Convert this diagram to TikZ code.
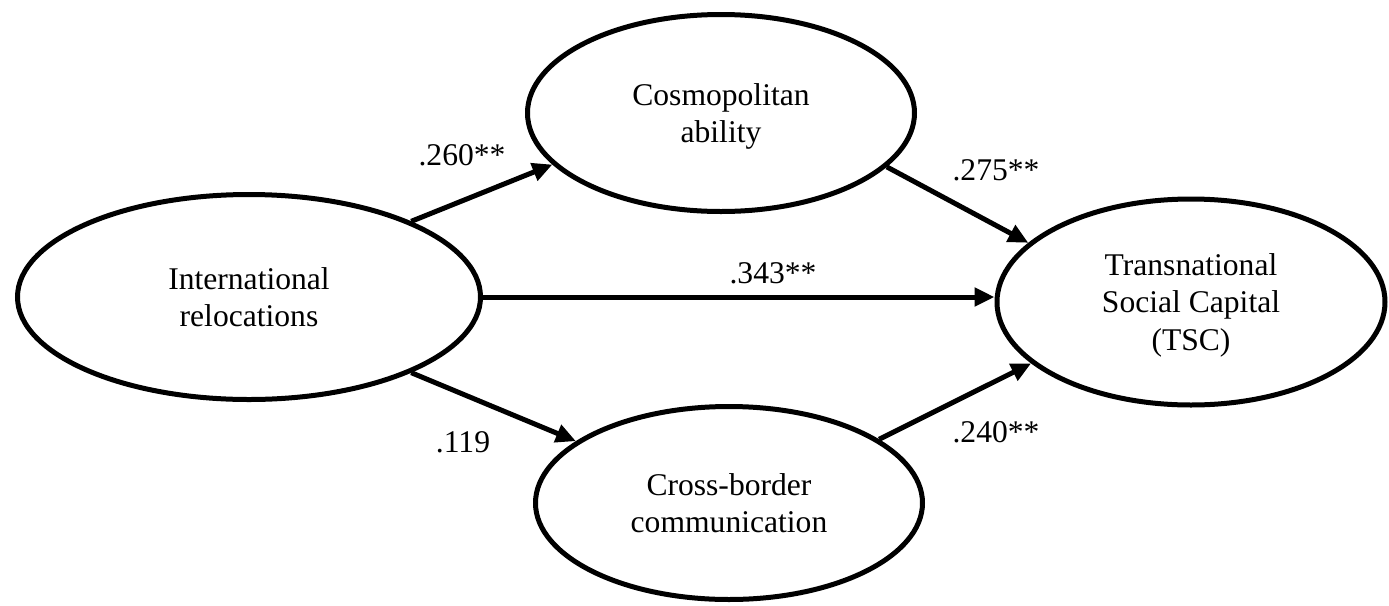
\documentclass[tikz,border=0pt]{standalone}
\usepackage{fontspec}
\setmainfont{Liberation Serif}
\usepackage{tikz}
\usetikzlibrary{arrows.meta,shapes.geometric}

\begin{document}
\begin{tikzpicture}[x=0.5pt,y=-0.5pt]
        \tikzstyle{construct} = [draw,shape=ellipse,line width=2.5pt,inner sep=0pt,align=center,font=\fontsize{15.8}{18.7}\selectfont]
        \tikzstyle{effect} = [line width=2.5pt,-{Triangle[length=10pt,width=9pt]}]
        \tikzstyle{coef} = [font=\fontsize{15.8}{18.7}\selectfont]
        %
        \useasboundingbox (0,0) rectangle (1389,606);
        % Draw constructs.
        \node[construct,minimum width=231.5pt,minimum height=102.5pt] (ir) at (249,297) {International\\relocations};
        \node[construct,minimum width=193.5pt,minimum height=98.5pt,text depth=0pt] (ca) at (721,113) {Cosmopolitan\\ability};
        \node[construct,minimum width=193.5pt,minimum height=96.5pt] (cbc) at (729,503) {Cross-border\\communication};
        \node[construct,minimum width=194pt,minimum height=103pt,text depth=0pt] (tsc) at (1191,302) {Transnational\\Social Capital\\(TSC)};
        % Draw paths.
        \draw[effect] (ir.25) -- (ca.197);
        \draw[effect] (ir.east) -- (tsc.west |- ir.east);
        \draw[effect] (ir.335) -- (cbc.158);
        \draw[effect] (ca.342) -- (tsc.160);
        \draw[effect] (cbc.23) -- (tsc.201);
        % Coefficients.
        \node[coef] (b1) at (462,155) {.260**};
        \node[coef] (b2) at (773,273) {.343**};
        \node[coef] (b3) at (463,442) {.119};
        \node[coef] (b4) at (996,170) {.275**};
        \node[coef] (b5) at (996,432) {.240**};
        %
\end{tikzpicture}
\end{document}
